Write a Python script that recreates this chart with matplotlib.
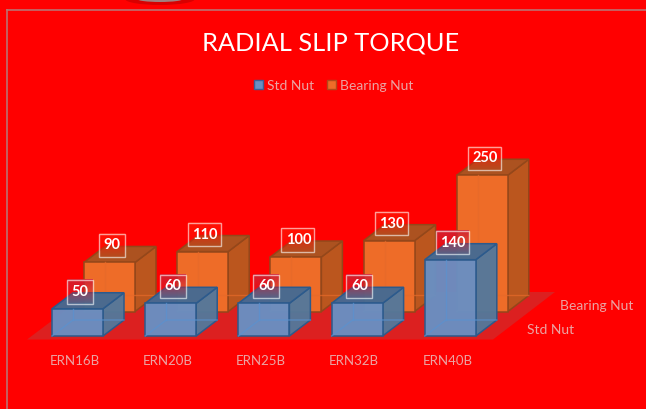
import matplotlib
matplotlib.use("Agg")
import matplotlib.pyplot as plt
import numpy as np
from matplotlib.patches import Polygon, Rectangle, Ellipse

categories = ["ERN16B", "ERN20B", "ERN25B", "ERN32B", "ERN40B"]
series_names = ["Std Nut", "Bearing Nut"]
std_nut = [50, 60, 60, 60, 140]
bearing_nut = [90, 110, 100, 130, 250]

W, H = 646, 409
plt.rcParams["font.family"] = ["Lato", "DejaVu Sans"]

fig = plt.figure(figsize=(W / 100, H / 100), dpi=100, facecolor="#ff0000")
ax = fig.add_axes([0, 0, 1, 1])

# oblique projection used by the chart, everything in pixels
X0, Y0 = 52, 336
CAT_STEP = 93.2
BAR_W = 51
DEPTH_X, DEPTH_Y = 21, -16
SERIES_DX, SERIES_DY = 32, -24.5
PX_PER_UNIT = 0.545
AXIS_TEXT = "#eba4a4"


def face(points, fc, ec, alpha=1.0, z=2):
    ax.add_patch(Polygon(points, closed=True, fc=fc, ec="none", alpha=alpha, zorder=z))
    ax.add_patch(Polygon(points, closed=True, fc="none", ec=ec, lw=1.1, zorder=z + 0.1))


def value_box(cx, cy, value, rgb, z):
    # gradient box, colour at the top fading out downwards
    bw = 33 if value >= 100 else 26
    bh = 23.5
    grad = np.zeros((24, 1, 4))
    grad[:, 0, :3] = rgb
    grad[:, 0, 3] = np.linspace(0.95, 0.1, 24)
    ax.imshow(grad, extent=(cx - bw / 2, cx + bw / 2, cy + bh / 2, cy - bh / 2),
              aspect="auto", zorder=z, interpolation="bilinear")
    ax.add_patch(Rectangle((cx - bw / 2, cy - bh / 2), bw, bh, fc="none",
                           ec=(1, 1, 1, 0.6), lw=1, zorder=z + 0.1))
    ax.text(cx + 0.5, cy, str(value), color="white", fontsize=10.5, fontweight="bold",
            ha="center", va="center", zorder=z + 0.2)


def bar3d(cat, series, value, colors, inner, alpha, box_rgb, z):
    front, top, side, edge = colors
    x = X0 + cat * CAT_STEP + series * SERIES_DX
    y = Y0 + series * SERIES_DY
    h = value * PX_PER_UNIT
    bx, by = x + DEPTH_X, y + DEPTH_Y
    face([(x + BAR_W, y), (bx + BAR_W, by), (bx + BAR_W, by - h), (x + BAR_W, y - h)],
         side, edge, alpha, z + 0.2)
    face([(x, y - h), (x + BAR_W, y - h), (bx + BAR_W, by - h), (bx, by - h)],
         top, edge, alpha, z + 0.4)
    face([(x, y), (x + BAR_W, y), (x + BAR_W, y - h), (x, y - h)],
         front, edge, alpha, z + 0.6)
    # hidden back edges show through the glassy front
    ax.plot([x, bx, bx + BAR_W], [y, by, by], color=inner, lw=1, alpha=0.7, zorder=z + 0.8)
    ax.plot([bx, bx], [by, y - h], color=inner, lw=1, alpha=0.7, zorder=z + 0.8)
    # value label sits over the back top corner of the bar
    value_box(x + 27.5, y - h - 17, value, box_rgb, 20)


# frame lines from the screenshot
ax.plot([6.5, 6.5], [10, H], color="#bb7272", lw=1.2, zorder=1)
ax.plot([6.5, W], [10, 10], color="#bb7272", lw=1.2, zorder=1)

# bit of the shape cut off at the top edge
ax.add_patch(Ellipse((160, -1), 70, 12, fc="#d80000", ec="none", zorder=1))
ax.add_patch(Ellipse((160, -1), 46, 6, fc="#a08080", ec="none", zorder=1.1))

# floor
ax.add_patch(Polygon([(27, 339.5), (493, 339.5), (555, 292), (90, 292)],
                     closed=True, fc="#dc2020", ec="none", zorder=1))

orange = ("#ee6c28", "#ac5220", "#bb561e", "#94471a")
blue = ("#6a8fc2", "#466a92", "#55789a", "#2c5a8c")

for i, v in enumerate(bearing_nut):
    bar3d(i, 1, v, orange, "#e66a2a", 1.0, (1.0, 0.08, 0.02), 3)
for i, v in enumerate(std_nut):
    bar3d(i, 0, v, blue, "#5a92d0", 0.97, (0.82, 0.13, 0.2), 8)

for i, c in enumerate(categories):
    ax.text(X0 + i * CAT_STEP + 22.5, 361, c, color=AXIS_TEXT, fontsize=9.5,
            ha="center", va="center")
ax.text(527, 330, series_names[0], color=AXIS_TEXT, fontsize=10, va="center")
ax.text(559.5, 306, series_names[1], color=AXIS_TEXT, fontsize=10, va="center")

ax.text(331, 42.5, "RADIAL SLIP TORQUE", color="white", fontsize=18.3, ha="center", va="center")

# legend
ax.add_patch(Rectangle((254, 80), 9, 9, fc="#6a8fc2", ec="#3c5f96", lw=1, zorder=3))
ax.text(267, 85.5, series_names[0], color=AXIS_TEXT, fontsize=10, va="center")
ax.add_patch(Rectangle((327, 80), 9, 9, fc="#ee6c28", ec="#b04a1a", lw=1, zorder=3))
ax.text(340, 85.5, series_names[1], color=AXIS_TEXT, fontsize=10, va="center")

ax.set_xlim(0, W)
ax.set_ylim(H, 0)
ax.axis("off")

fig.savefig("out.png", dpi=100, facecolor=fig.get_facecolor())
